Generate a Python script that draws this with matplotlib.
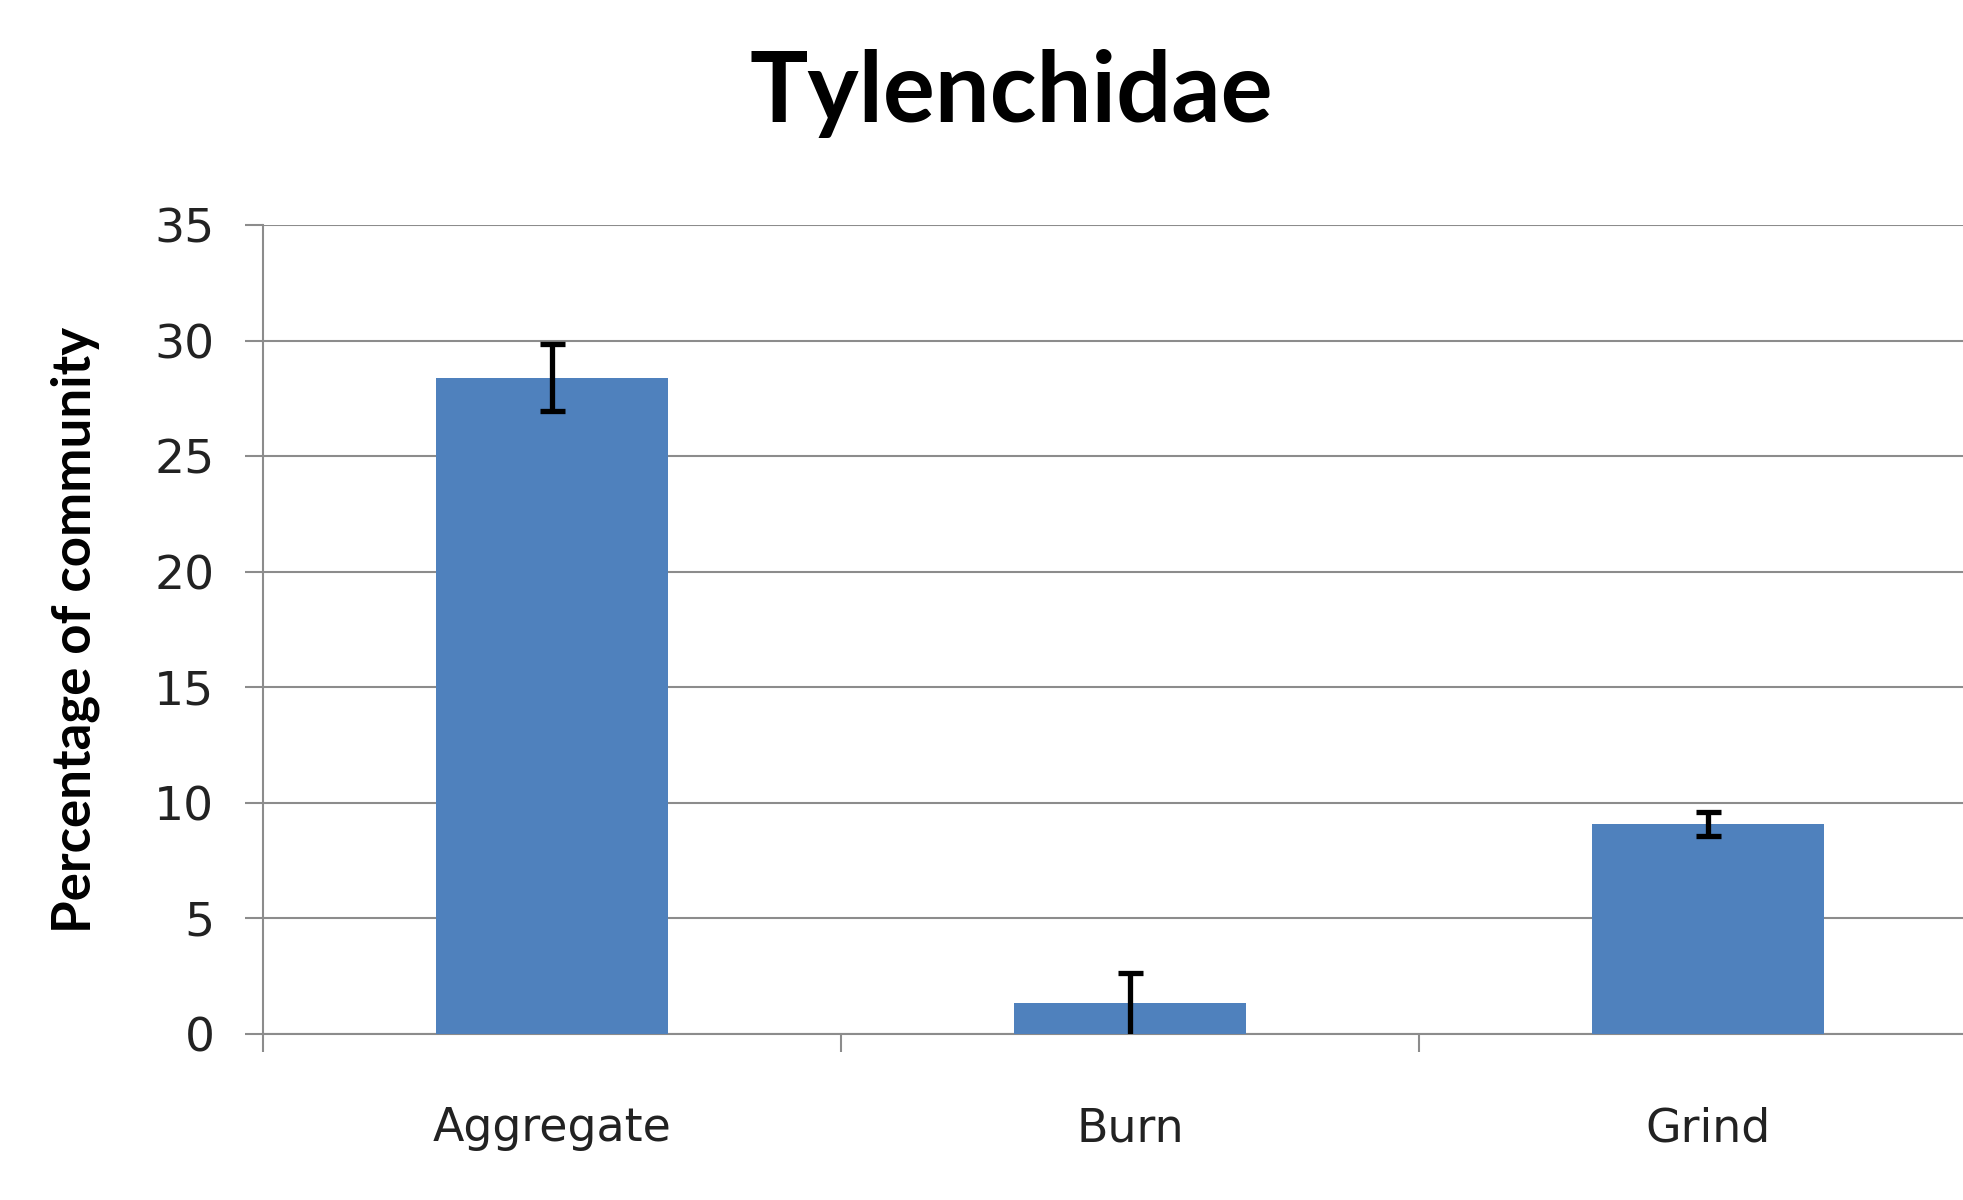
import numpy as np
import matplotlib
matplotlib.use("Agg")
import matplotlib.pyplot as plt

categories = ["Aggregate", "Burn", "Grind"]
values = [28.4, 1.35, 9.1]
err_low = [1.45, 1.5, 0.55]
err_high = [1.45, 1.3, 0.5]
y_ticks = [0, 5, 10, 15, 20, 25, 30, 35]

fig = plt.figure(figsize=(19.63, 12), dpi=100)
ax = fig.add_axes([0.134, 0.1383, 0.8833, 0.674])

x = np.arange(len(categories))
ax.bar(x, values, width=0.4, color="#4F81BD", zorder=3)
ax.errorbar(
    x,
    values,
    yerr=[err_low, err_high],
    fmt="none",
    ecolor="black",
    elinewidth=3.8,
    capsize=9,
    capthick=3.8,
    zorder=4,
)

ax.set_xlim(-0.5, 2.5)
ax.set_ylim(0, 35)
ax.set_yticks(y_ticks)
ax.set_yticklabels([str(t) for t in y_ticks], fontsize=34, family="DejaVu Sans", color="#222222")
ax.yaxis.grid(True, color="#8c8c8c", linewidth=1.5, zorder=0)
ax.set_axisbelow(True)

# category labels at centres, separator ticks at the boundaries
ax.set_xticks(x)
ax.set_xticklabels(categories, fontsize=33, family="DejaVu Sans", color="#222222")
ax.set_xticks(np.arange(-0.5, 2.6, 1.0), minor=True)
ax.tick_params(axis="x", which="major", length=0, pad=52)
ax.tick_params(axis="x", which="minor", length=13, width=1.5, color="#8c8c8c")
ax.tick_params(axis="y", length=13, width=1.5, color="#8c8c8c", pad=22)

for s in ["top", "right"]:
    ax.spines[s].set_visible(False)
for s in ["left", "bottom"]:
    ax.spines[s].set_color("#8c8c8c")
    ax.spines[s].set_linewidth(1.5)

ax.set_ylabel("Percentage of community", fontsize=38, family="Lato",
              fontweight="bold")
ax.yaxis.set_label_coords(-0.094, 0.5)
fig.text(0.515, 0.922, "Tylenchidae", fontsize=70, family="Lato",
         fontweight="bold", ha="center", va="center")

fig.savefig("out.png", dpi=100, facecolor="white")
